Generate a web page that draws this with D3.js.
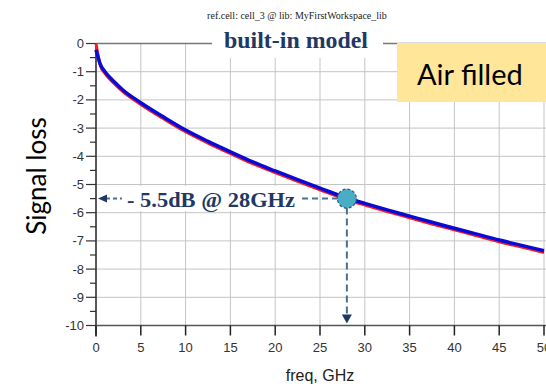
<!DOCTYPE html>
<html>
<head>
<meta charset="UTF-8" />
<script src="https://d3js.org/d3.v7.min.js"></script>
<style>
  body { margin: 0; background: white; }
  .tick-label { font-family: "Liberation Sans", Arial, sans-serif; font-size: 13px; fill: #333; }
  .grid { stroke: #c4c4c4; stroke-width: 1px; }
</style>
</head>
<body>
<svg id="chart" width="546" height="384"></svg>
<script>
  // data
  const freq      = [0, 0.5, 1, 2, 3, 5, 7.5, 10, 12.5, 15, 17.5, 20, 22.5, 25, 28, 30, 32.5, 35, 37.5, 40, 42.5, 45, 47.5, 50];
  const lossBlue  = [-0.22, -0.75, -1.0, -1.35, -1.65, -2.1, -2.6, -3.07, -3.47, -3.84, -4.2, -4.52, -4.83, -5.13, -5.48, -5.67, -5.9, -6.12, -6.34, -6.55, -6.76, -6.97, -7.16, -7.35];
  const lossRed   = [0, -0.8, -1.06, -1.41, -1.71, -2.16, -2.66, -3.13, -3.53, -3.9, -4.26, -4.58, -4.89, -5.19, -5.54, -5.73, -5.96, -6.18, -6.4, -6.61, -6.82, -7.03, -7.22, -7.41];
  const xTicks = [0, 5, 10, 15, 20, 25, 30, 35, 40, 45, 50];
  const yTicks = [0, -1, -2, -3, -4, -5, -6, -7, -8, -9, -10];
  const yMinor = d3.range(-9.5, 0, 1);
  const markFreq = 28, markLoss = -5.5;

  const svg = d3.select("#chart");
  const x = d3.scaleLinear().domain([0, 50]).range([96, 544]);
  const y = d3.scaleLinear().domain([-10, 0]).range([325.5, 43.5]);

  // grid
  svg.selectAll("line.vgrid").data(xTicks.slice(1))
    .join("line").attr("class", "grid")
    .attr("x1", d => x(d)).attr("x2", d => x(d))
    .attr("y1", y(0)).attr("y2", y(-10));
  svg.selectAll("line.hgrid").data(yTicks.slice(1, -1))
    .join("line").attr("class", "grid")
    .attr("x1", x(0)).attr("x2", 546)
    .attr("y1", d => y(d)).attr("y2", d => y(d));
  svg.append("line").attr("x1", x(0)).attr("x2", 546)
    .attr("y1", y(0)).attr("y2", y(0))
    .style("stroke", "#777").style("stroke-width", 1.5);

  // axes
  svg.append("line").attr("x1", x(0)).attr("x2", x(0))
    .attr("y1", y(0)).attr("y2", y(-10) + 11)
    .style("stroke", "#222").style("stroke-width", 1.5);
  svg.append("line").attr("x1", x(0)).attr("x2", 546)
    .attr("y1", y(-10)).attr("y2", y(-10))
    .style("stroke", "#555").style("stroke-width", 1.5);

  svg.selectAll("line.ytick").data(yTicks)
    .join("line").attr("x1", x(0) - 10).attr("x2", x(0))
    .attr("y1", d => y(d)).attr("y2", d => y(d))
    .style("stroke", "#333").style("stroke-width", 1.2);
  svg.selectAll("line.yminor").data(yMinor)
    .join("line").attr("x1", x(0) - 6).attr("x2", x(0))
    .attr("y1", d => y(d)).attr("y2", d => y(d))
    .style("stroke", "#333").style("stroke-width", 1.2);
  svg.selectAll("line.xtick").data(xTicks)
    .join("line").attr("x1", d => x(d)).attr("x2", d => x(d))
    .attr("y1", y(-10)).attr("y2", y(-10) + 10)
    .style("stroke", "#222").style("stroke-width", 1.5);

  svg.selectAll("text.ylab").data(yTicks)
    .join("text").attr("class", "tick-label")
    .attr("x", 84).attr("y", d => y(d) + 4.5)
    .attr("text-anchor", "end").text(d => d);
  svg.selectAll("text.xlab").data(xTicks)
    .join("text").attr("class", "tick-label")
    .attr("x", d => x(d)).attr("y", 352)
    .attr("text-anchor", "middle").text(d => d);

  // curves
  const line = d3.line().curve(d3.curveMonotoneX);
  svg.append("path")
    .attr("d", line(freq.map((f, i) => [x(f), y(lossRed[i])])))
    .style("fill", "none").style("stroke", "#ff1a1a").style("stroke-width", 3);
  svg.append("path")
    .attr("d", line(freq.map((f, i) => [x(f), y(lossBlue[i])])))
    .style("fill", "none").style("stroke", "#0a0ad8").style("stroke-width", 3.5);

  // header labels
  svg.append("text").attr("x", 297).attr("y", 19)
    .attr("text-anchor", "middle")
    .style("font-family", "Liberation Serif, serif").style("font-size", "10px").style("fill", "#222")
    .text("ref.cell: cell_3 @ lib: MyFirstWorkspace_lib");
  svg.append("rect").attr("x", 212).attr("y", 28).attr("width", 171).attr("height", 30).style("fill", "white");
  svg.append("text").attr("x", 224).attr("y", 48)
    .attr("textLength", 144).attr("lengthAdjust", "spacingAndGlyphs")
    .style("font-family", "Liberation Serif, serif").style("font-size", "23px").style("font-weight", "bold")
    .style("fill", "#1f3864")
    .text("built-in model");

  svg.append("rect").attr("x", 397).attr("y", 43).attr("width", 149).attr("height", 59).style("fill", "#ffe699");
  svg.append("text").attr("x", 417).attr("y", 85)
    .style("font-family", "Lato, sans-serif").style("font-size", "29px").style("fill", "#000")
    .text("Air filled");

  // annotation
  const mx = x(markFreq), my = y(markLoss);
  const navy = "#1f3864", dashCol = "#4d6f8f";
  svg.append("rect").attr("x", 120).attr("y", 186).attr("width", 180).attr("height", 25).style("fill", "white");
  svg.append("text").attr("x", 127).attr("y", 207)
    .attr("textLength", 168).attr("lengthAdjust", "spacingAndGlyphs")
    .style("font-family", "Liberation Serif, serif").style("font-size", "21px").style("font-weight", "bold")
    .style("fill", navy).text("- 5.5dB @ 28GHz");
  svg.append("line").attr("x1", x(0) + 10).attr("x2", 122).attr("y1", my).attr("y2", my)
    .style("stroke", dashCol).style("stroke-width", 2).style("stroke-dasharray", "4,3");
  svg.append("path")
    .attr("d", `M${x(0) + 2},${my} L${x(0) + 11},${my - 4} L${x(0) + 11},${my + 4} Z`)
    .style("fill", navy);
  svg.append("line").attr("x1", 302).attr("x2", mx - 9).attr("y1", my).attr("y2", my)
    .style("stroke", dashCol).style("stroke-width", 2).style("stroke-dasharray", "6,4");
  svg.append("line").attr("x1", mx).attr("x2", mx).attr("y1", my + 9).attr("y2", y(-10) - 10)
    .style("stroke", dashCol).style("stroke-width", 2).style("stroke-dasharray", "7,4");
  svg.append("path")
    .attr("d", `M${mx - 5},${y(-10) - 11} L${mx + 5},${y(-10) - 11} L${mx},${y(-10) - 2} Z`)
    .style("fill", navy);
  svg.append("circle").attr("cx", mx).attr("cy", my).attr("r", 9.5)
    .style("fill", "#4bacc6").style("stroke", "#2f5f80").style("stroke-width", 1.2)
    .style("stroke-dasharray", "3,2");

  // axis titles
  svg.append("text").attr("transform", "translate(46,176) rotate(-90)")
    .attr("text-anchor", "middle")
    .style("font-family", "Lato, sans-serif").style("font-size", "26px").style("fill", "#000")
    .text("Signal loss");
  svg.append("text").attr("x", 320).attr("y", 381)
    .attr("text-anchor", "middle")
    .style("font-family", "Liberation Sans, Arial, sans-serif").style("font-size", "16px").style("fill", "#222")
    .text("freq, GHz");
</script>
</body>
</html>
